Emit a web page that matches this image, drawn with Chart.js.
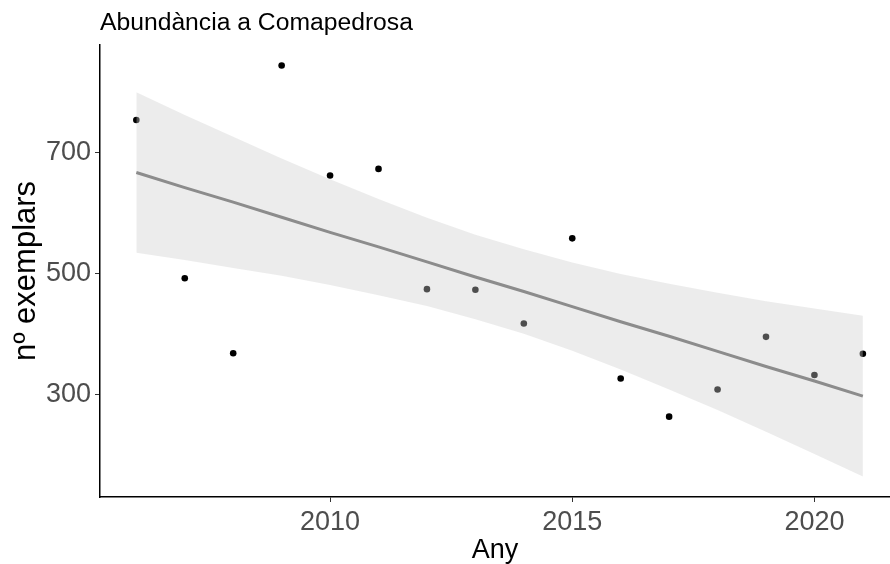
<!DOCTYPE html>
<html>
<head>
<meta charset="utf-8">
<script src="https://cdn.jsdelivr.net/npm/chart.js@4"></script>
<style>
  body { margin: 0; background: #ffffff; }
  canvas { display: block; }
</style>
</head>
<body>
<canvas id="grafico" width="890" height="564"></canvas>
<script>
// anys i abundancia observada
const anys = [2006, 2007, 2008, 2009, 2010, 2011, 2012, 2013, 2014, 2015, 2016, 2017, 2018, 2019, 2020, 2021];
const exemplars = [754, 492, 368, 844, 662, 673, 474, 473, 417, 558, 326, 263, 308, 395, 332, 367];

// recta de regressio i interval de confianca, llegits del grafic
const ajust = [667, 642, 618, 593, 568, 544, 519, 494, 470, 445, 420, 396, 371, 346, 322, 297];
const banda_sup = [800, 762, 726, 690, 656, 623, 592, 564, 540, 518, 499, 483, 468, 454, 442, 430];
const banda_inf = [534, 522, 509, 496, 481, 464, 446, 424, 400, 372, 341, 308, 274, 238, 201, 164];

const ticks_x = [2010, 2015, 2020];
const ticks_y = [300, 500, 700];

const titol = 'Abundància a Comapedrosa';
const titol_x = 'Any';
const titol_y = 'nº exemplars';

const font_base = '"Liberation Sans", Arial, Helvetica, sans-serif';

function punts(valors) {
    return anys.map((a, i) => ({ x: a, y: valors[i] }));
}

const titol_plugin = {
    id: 'titol_esquerra',
    afterDraw(chart) {
        const ctx = chart.ctx;
        ctx.save();
        ctx.font = '24.7px ' + font_base;
        ctx.fillStyle = '#000000';
        ctx.textAlign = 'left';
        ctx.textBaseline = 'alphabetic';
        ctx.fillText(titol, chart.chartArea.left, 30);
        ctx.restore();
    }
};

const grafico = document.getElementById('grafico');

new Chart(grafico, {
    type: 'scatter',
    data: {
        datasets: [
            {
                label: 'ajust',
                type: 'line',
                data: punts(ajust),
                borderColor: '#8c8c8c',
                borderWidth: 3,
                pointRadius: 0,
                fill: false,
                order: 0
            },
            {
                label: 'banda_sup',
                type: 'line',
                data: punts(banda_sup),
                borderWidth: 0,
                borderColor: 'rgba(0,0,0,0)',
                pointRadius: 0,
                backgroundColor: 'rgba(206,206,206,0.38)',
                fill: '+1',
                order: 1
            },
            {
                label: 'banda_inf',
                type: 'line',
                data: punts(banda_inf),
                borderWidth: 0,
                borderColor: 'rgba(0,0,0,0)',
                pointRadius: 0,
                fill: false,
                order: 1
            },
            {
                label: 'exemplars',
                data: punts(exemplars),
                backgroundColor: '#000000',
                borderWidth: 0,
                pointRadius: 3.3,
                order: 2
            }
        ]
    },
    options: {
        responsive: false,
        animation: false,
        layout: {
            autoPadding: false,
            padding: { top: 45, right: 0, left: 0, bottom: 0 }
        },
        plugins: {
            legend: { display: false },
            tooltip: { enabled: false },
            title: { display: false }
        },
        scales: {
            x: {
                type: 'linear',
                min: 2005.25,
                max: 2021.56,
                afterBuildTicks: scale => { scale.ticks = ticks_x.map(v => ({ value: v })); },
                afterFit: scale => {
                    scale.height = 67;
                    scale.paddingLeft = 0;
                    scale.paddingRight = 0;
                },
                grid: {
                    drawOnChartArea: false,
                    drawTicks: true,
                    tickLength: 5,
                    tickColor: '#333333'
                },
                border: { display: true, color: '#000000', width: 1.5 },
                ticks: {
                    color: '#4d4d4d',
                    font: { family: font_base, size: 27 },
                    padding: 4,
                    maxRotation: 0,
                    callback: v => String(v)
                },
                title: {
                    display: true,
                    text: titol_x,
                    color: '#000000',
                    font: { family: font_base, size: 27, lineHeight: 1.0 },
                    padding: { top: 0, bottom: 0 }
                }
            },
            y: {
                min: 130,
                max: 878,
                afterBuildTicks: scale => { scale.ticks = ticks_y.map(v => ({ value: v })); },
                afterFit: scale => {
                    scale.width = 100;
                    scale.paddingTop = 0;
                    scale.paddingBottom = 0;
                },
                grid: {
                    drawOnChartArea: false,
                    drawTicks: true,
                    tickLength: 5,
                    tickColor: '#333333'
                },
                border: { display: true, color: '#000000', width: 1.5 },
                ticks: {
                    color: '#4d4d4d',
                    font: { family: font_base, size: 27 },
                    padding: 4,
                    callback: v => String(v)
                },
                title: {
                    display: true,
                    text: titol_y,
                    color: '#000000',
                    font: { family: font_base, size: 31, lineHeight: 1.0 },
                    padding: { top: 11, bottom: 0 }
                }
            }
        }
    },
    plugins: [titol_plugin]
});
</script>
</body>
</html>
